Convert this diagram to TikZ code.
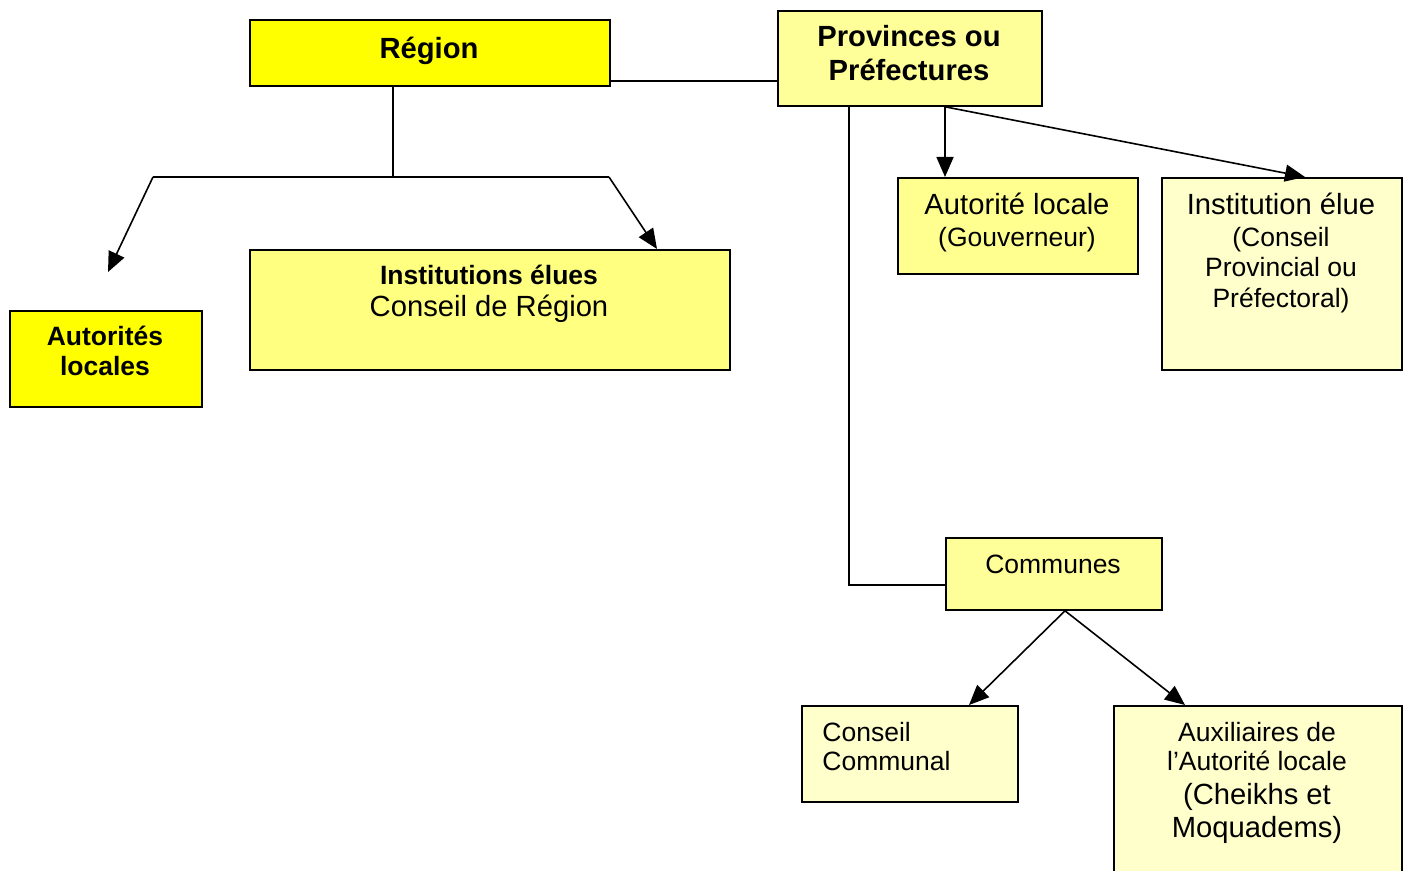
\documentclass[tikz,border=0pt]{standalone}
\usepackage{fontspec}
\setmainfont{Liberation Sans}
\usetikzlibrary{arrows.meta}
\definecolor{yelA}{HTML}{FFFF00}
\definecolor{yelB}{HTML}{FFFF99}
\definecolor{yelC}{HTML}{FFFF80}
\definecolor{yelD}{HTML}{FFFFCC}
\definecolor{yelE}{HTML}{FFFF90}
\begin{document}
\begin{tikzpicture}[x=0.5pt,y=-0.5pt,
  box/.style={draw,line width=0.9pt,inner sep=0pt,anchor=north west},
  big/.style={font=\fontsize{14.6}{17}\selectfont,anchor=base,inner sep=0pt},
  sml/.style={font=\fontsize{13.25}{15}\selectfont,anchor=base,inner sep=0pt},
  con/.style={line width=0.8pt},
  arr/.style={con,-{Triangle[length=10pt,width=8.5pt]}}]
\path[use as bounding box,clip] (0,0) rectangle (1406,871);
\fill[white] (0,0) rectangle (1406,871);

% boxes
\node[box,fill=yelA,minimum width=180pt,minimum height=33pt] (reg) at (249,19) {};
\node[box,fill=yelB,minimum width=132pt,minimum height=47.5pt] (prov) at (777,10) {};
\node[box,fill=yelA,minimum width=96pt,minimum height=48pt] (al) at (9,310) {};
\node[box,fill=yelC,minimum width=240pt,minimum height=60pt] (inst) at (249,249) {};
\node[box,fill=yelE,minimum width=120pt,minimum height=48pt] (aut) at (897,177) {};
\node[box,fill=yelD,minimum width=120pt,minimum height=96pt] (ins) at (1161,177) {};
\node[box,fill=yelB,minimum width=108pt,minimum height=36pt] (comm) at (945,537) {};
\node[box,fill=yelD,minimum width=108pt,minimum height=48pt] (cc) at (801,705) {};
\node[box,fill=yelD,minimum width=144pt,minimum height=90pt] (aux) at (1113,705) {};

% texts
\node[big,font=\fontsize{14.6}{17}\selectfont\bfseries] (t1) at (429,58.5) {Région};
\node[big,font=\fontsize{14.6}{17}\selectfont\bfseries] (t2) at (909,47) {Provinces ou};
\node[big,font=\fontsize{14.6}{17}\selectfont\bfseries] (t3) at (909,81) {Préfectures};
\node[sml,font=\fontsize{13.25}{15}\selectfont\bfseries] (t4) at (105,345) {Autorités};
\node[sml,font=\fontsize{13.25}{15}\selectfont\bfseries] (t5) at (105,375) {locales};
\node[sml,font=\fontsize{13.25}{15}\selectfont\bfseries] (t6) at (489,285) {Institutions élues};
\node[big] (t7) at (489,317) {Conseil de Région};
\node[big] (t8) at (1017,215) {Autorité locale};
\node[sml] (t9) at (1017,247) {(Gouverneur)};
\node[big] (t10) at (1281,215) {Institution élue};
\node[sml] (t11) at (1281,247) {(Conseil};
\node[sml] (t12) at (1281,277) {Provincial ou};
\node[sml] (t13) at (1281,307) {Préfectoral)};
\node[sml] (t14) at (1053,573) {Communes};
\node[sml,anchor=base west] (t15) at (822,741) {Conseil};
\node[sml,anchor=base west] (t16) at (822,770) {Communal};
\node[sml] (t17) at (1257,741) {Auxiliaires de};
\node[sml] (t18) at (1257,770) {l’Autorité locale};
\node[big] (t19) at (1257,804) {(Cheikhs et};
\node[big] (t20) at (1257,837) {Moquadems)};

% coordinates
\coordinate (rj) at (393,177);
\coordinate (rl) at (153,177);
\coordinate (rr) at (609,177);
\coordinate (altip) at (108,272);

% connectors
\draw[con] (reg.east |- 0,81) -- (prov.west |- 0,81);
\draw[con] (reg.south -| rj) -- (rj);
\draw[con] (rl) -- (rr);
\draw[arr] (rl) -- (altip);
\draw[arr] (rr) -- (inst.north -| 657,0);
\draw[arr] (prov.south -| 945,0) -- (aut.north -| 945,0);
\draw[arr] (prov.south -| 945,0) -- (ins.north -| 1305,0);
\draw[con] (prov.south -| 849,0) |- (comm.west |- 0,585);
\draw[arr] (comm.south -| 1065,0) -- (cc.north -| 969,0);
\draw[arr] (comm.south -| 1065,0) -- (aux.north -| 1185,0);
\end{tikzpicture}
\end{document}
